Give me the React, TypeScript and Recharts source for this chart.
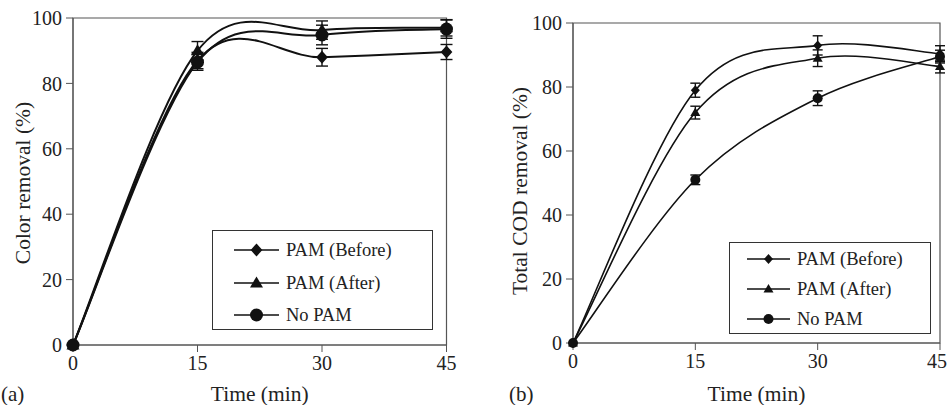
import React from 'react';
import { LineChart, Line, XAxis, YAxis, ErrorBar, ReferenceArea, Legend } from 'recharts';

const FONT = '"Liberation Serif", "Times New Roman", serif';
const INK = '#111';
const AXIS = '#555';

const times = [0, 15, 30, 45];
const xTicks = [0, 15, 30, 45];
const yTicks = [0, 20, 40, 60, 80, 100];
const seriesNames = ['PAM (Before)', 'PAM (After)', 'No PAM'];

// (a) colour removal, %
const colorBefore = [0, 87, 88, 89.6];
const colorBeforeErr = [0, 2.5, 2.7, 2.3];
const colorAfter = [0, 90, 96.3, 97];
const colorAfterErr = [0, 2.8, 2.8, 2.5];
const colorNoPam = [0, 86.5, 94.8, 96.6];
const colorNoPamErr = [0, 2.5, 3, 2.8];

// (b) total COD removal, %
const codBefore = [0, 79, 93, 90.4];
const codBeforeErr = [0, 2.2, 3, 2.5];
const codAfter = [0, 72, 89, 86.4];
const codAfterErr = [0, 2, 2.6, 2];
const codNoPam = [0, 51, 76.5, 89.5];
const codNoPamErr = [0, 1.5, 2.3, 2];

type Shape = 'diamond' | 'triangle' | 'circle';
const shapes: Shape[] = ['diamond', 'triangle', 'circle'];
const keys = ['before', 'after', 'noPam'];

function buildRows(b: number[], be: number[], a: number[], ae: number[], n: number[], ne: number[]) {
  return times.map((t, i) => ({
    t,
    before: b[i], beforeErr: be[i],
    after: a[i], afterErr: ae[i],
    noPam: n[i], noPamErr: ne[i],
  }));
}

const colorRows = buildRows(colorBefore, colorBeforeErr, colorAfter, colorAfterErr, colorNoPam, colorNoPamErr);
const codRows = buildRows(codBefore, codBeforeErr, codAfter, codAfterErr, codNoPam, codNoPamErr);

// spreadsheet-style smoothing (Catmull-Rom through the points), used as a d3 curve factory
function smoothCurve(context: any) {
  let pts: number[][] = [];
  return {
    areaStart() {},
    areaEnd() {},
    lineStart() { pts = []; },
    point(x: number, y: number) { pts.push([+x, +y]); },
    lineEnd() {
      const n = pts.length;
      if (!n) return;
      context.moveTo(pts[0][0], pts[0][1]);
      for (let i = 0; i < n - 1; i++) {
        const p0 = pts[Math.max(i - 1, 0)];
        const p1 = pts[i];
        const p2 = pts[i + 1];
        const p3 = pts[Math.min(i + 2, n - 1)];
        context.bezierCurveTo(
          p1[0] + (p2[0] - p0[0]) / 6, p1[1] + (p2[1] - p0[1]) / 6,
          p2[0] - (p3[0] - p1[0]) / 6, p2[1] - (p3[1] - p1[1]) / 6,
          p2[0], p2[1],
        );
      }
    },
  };
}

function Marker({ cx, cy, shape, r }: { cx: number; cy: number; shape: Shape; r: number }) {
  if (cx == null || cy == null) return null;
  if (shape === 'circle') return <circle cx={cx} cy={cy} r={r} fill={INK} />;
  if (shape === 'diamond') {
    const w = r * 0.9;
    return <path d={`M${cx},${cy - r}L${cx + w},${cy}L${cx},${cy + r}L${cx - w},${cy}Z`} fill={INK} />;
  }
  return <path d={`M${cx},${cy - r}L${cx + r},${cy + r * 0.7}L${cx - r},${cy + r * 0.7}Z`} fill={INK} />;
}

interface LegendLayout {
  left: number; top: number; width: number; height: number;
  padTop: number; padLeft: number; rowH: number; lineW: number; gap: number;
}

function LegendBox({ lay, r }: { lay: LegendLayout; r: number }) {
  return (
    <div style={{
      width: lay.width, height: lay.height, boxSizing: 'border-box', border: '1px solid #333',
      background: '#fff', paddingTop: lay.padTop, paddingLeft: lay.padLeft, fontFamily: FONT,
    }}>
      {seriesNames.map((name, i) => (
        <div key={name} style={{ height: lay.rowH, display: 'flex', alignItems: 'center' }}>
          <svg width={lay.lineW} height={18} style={{ display: 'block' }}>
            <line x1={0} x2={lay.lineW} y1={9} y2={9} stroke={INK} strokeWidth={1.6} />
            <Marker cx={lay.lineW / 2} cy={9} shape={shapes[i]} r={r} />
          </svg>
          <span style={{ marginLeft: lay.gap, fontSize: 18.5, color: '#222', lineHeight: '18px' }}>{name}</span>
        </div>
      ))}
    </div>
  );
}

interface PanelProps {
  rows: ReturnType<typeof buildRows>;
  width: number;
  plotLeft: number; plotRight: number; plotTop: number; plotBottom: number;
  yLabel: string; yLabelX: number; yLabelY: number;
  letter: string; letterX: number;
  legend: LegendLayout;
  r: number; sw: number; capW: number;
}

function Panel(p: PanelProps) {
  const xMid = (p.plotLeft + p.plotRight) / 2;
  return (
    <LineChart
      width={p.width}
      height={405}
      data={p.rows}
      margin={{ top: p.plotTop, right: p.width - p.plotRight, left: 0, bottom: 0 }}
    >
      <ReferenceArea x1={0} x2={45} y1={0} y2={100} fill="none" stroke={AXIS} strokeWidth={1.2} />
      <XAxis
        type="number" dataKey="t" domain={[0, 45]} ticks={xTicks} height={405 - p.plotBottom}
        stroke={AXIS} tickSize={7} tickMargin={4}
        tick={{ fill: '#222', fontSize: 20, fontFamily: FONT }}
        label={{
          content: () => (
            <g fontFamily={FONT} fill="#222">
              <text x={xMid} y={401} textAnchor="middle" fontSize={21.5}>Time (min)</text>
              <text x={p.letterX} y={401} fontSize={21}>{p.letter}</text>
            </g>
          ),
        }}
      />
      <YAxis
        type="number" domain={[0, 100]} ticks={yTicks} width={p.plotLeft}
        stroke={AXIS} tickSize={7} tickMargin={4}
        tick={{ fill: '#222', fontSize: 20, fontFamily: FONT }}
        label={{
          content: () => (
            <text
              x={p.yLabelX} y={p.yLabelY} textAnchor="middle" dominantBaseline="central"
              transform={`rotate(-90, ${p.yLabelX}, ${p.yLabelY})`}
              fontSize={21.5} fontFamily={FONT} fill="#222"
            >
              {p.yLabel}
            </text>
          ),
        }}
      />
      <Legend
        layout="vertical" align="center" verticalAlign="middle"
        wrapperStyle={{ left: p.legend.left, top: p.legend.top, width: p.legend.width, height: p.legend.height }}
        content={() => <LegendBox lay={p.legend} r={p.r} />}
      />
      {keys.map((k, i) => (
        <Line
          key={k}
          type={smoothCurve as any}
          dataKey={k}
          name={seriesNames[i]}
          stroke={INK}
          strokeWidth={p.sw}
          isAnimationActive={false}
          dot={(d: any) => <Marker key={`${k}-${d.index}`} cx={d.cx} cy={d.cy} shape={shapes[i]} r={p.r} />}
          activeDot={false}
        >
          <ErrorBar dataKey={`${k}Err`} direction="y" width={p.capW} stroke={INK} strokeWidth={1.4} isAnimationActive={false} />
        </Line>
      ))}
    </LineChart>
  );
}

export default function App() {
  return (
    <div style={{ position: 'absolute', left: 0, top: 0, width: 947, height: 405, background: '#fff', overflow: 'hidden', fontFamily: FONT }}>
      <div style={{ position: 'absolute', left: 0, top: 0 }}>
        <Panel
          rows={colorRows}
          width={473}
          plotLeft={73} plotRight={446.5} plotTop={18} plotBottom={345}
          yLabel="Color removal (%)" yLabelX={23} yLabelY={183}
          letter="(a)" letterX={1}
          legend={{ left: 212, top: 230, width: 221, height: 100, padTop: 3, padLeft: 21, rowH: 32.5, lineW: 45, gap: 7 }}
          r={6.5} sw={2} capW={6}
        />
      </div>
      <div style={{ position: 'absolute', left: 477, top: 0 }}>
        <Panel
          rows={codRows}
          width={470}
          plotLeft={96} plotRight={463} plotTop={23} plotBottom={343}
          yLabel="Total COD removal (%)" yLabelX={43} yLabelY={191}
          letter="(b)" letterX={32}
          legend={{ left: 252, top: 242, width: 202, height: 92, padTop: 1, padLeft: 17, rowH: 30, lineW: 43, gap: 7 }}
          r={5} sw={1.6} capW={5}
        />
      </div>
    </div>
  );
}
